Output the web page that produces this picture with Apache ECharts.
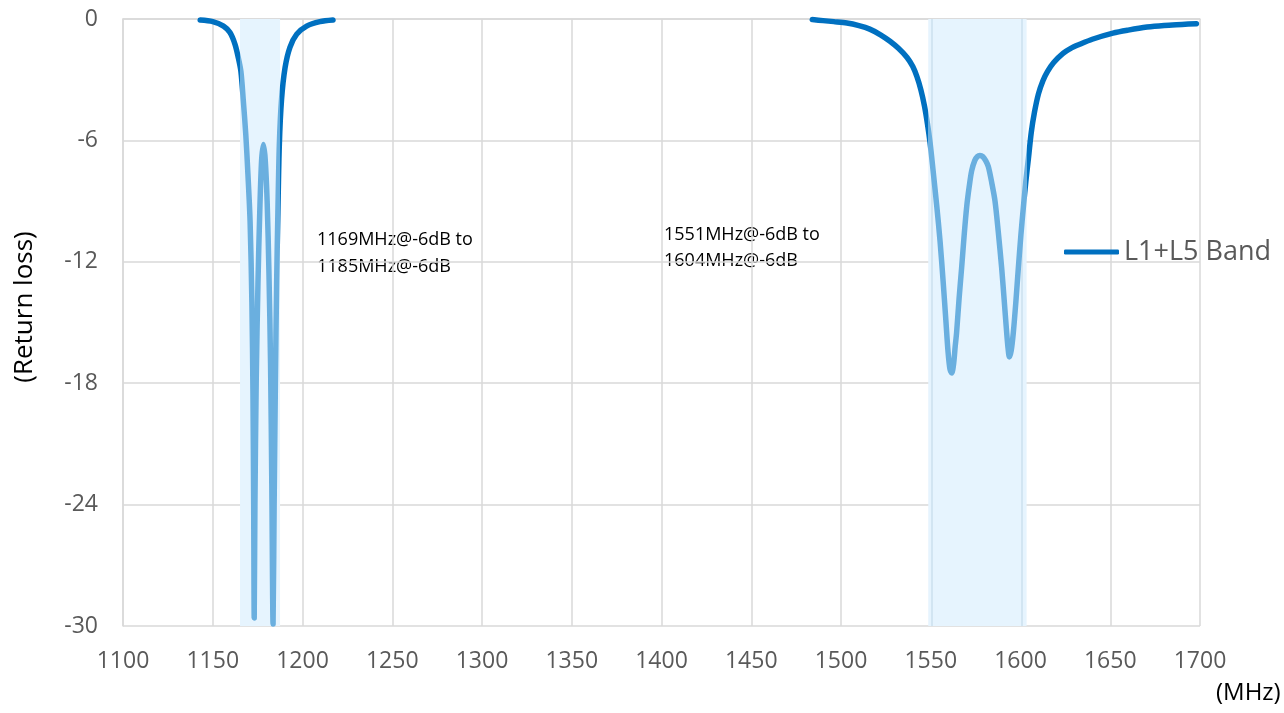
<!DOCTYPE html>
<html>
<head>
<meta charset="utf-8">
<script src="https://cdn.jsdelivr.net/npm/echarts@6/dist/echarts.min.js"></script>
<style>
html,body{margin:0;padding:0;background:#fff;}
#chart{width:1284px;height:713px;}
</style>
</head>
<body>
<div id="chart"></div>
<script>
// Frequency (MHz) and return loss (dB); null marks a gap where the trace sits at/above 0 dB
const freqMHz = [
  1143, 1150, 1156, 1159.6, 1162.4, 1164.2, 1165.7, 1167, 1168.4, 1169.5, 1170.8, 1171.8, 1172.4, 1172.8, 1173.1,
  1173.5, 1174.2, 1175.2, 1176.2, 1177.2, 1178.2, 1179.2, 1180.3, 1181.3, 1182.2, 1182.9, 1183.6,
  1184.2, 1184.9, 1185.6, 1186.3, 1187.1, 1188.3, 1190.3, 1193, 1196.8, 1202.3, 1209.7, 1217,
  1350,
  1484, 1490, 1496, 1503.3, 1510, 1516, 1522, 1527.3, 1532, 1536.8, 1540, 1542.3, 1544.5, 1546.5, 1548.2,
  1549.6, 1551.2, 1553.3, 1555.2, 1557, 1558.5, 1559.6, 1560.7, 1561.7, 1562.8, 1563.6, 1564.4, 1565.8, 1567.2,
  1568.6, 1570, 1571.4, 1572.8, 1574.5, 1576, 1577.4, 1579, 1580.6, 1582.1, 1584, 1585.8, 1587.6, 1589.5,
  1591, 1592.3, 1593.1, 1593.8, 1594.8, 1596, 1597.4, 1598.8, 1600.2, 1601.6, 1603, 1604.4, 1606, 1607.8,
  1610, 1612.5, 1615, 1618.5, 1623.7, 1628, 1633, 1640, 1651.5, 1660, 1670.5, 1680, 1690, 1698
];
const returnLossDb = [
  -0.05, -0.13, -0.35, -0.67, -1.25, -1.9, -2.6, -4.0, -5.7, -7.5, -10, -14, -18.5, -24, -29.6,
  -24, -18, -13, -9.5, -7, -6.2, -6.9, -9, -12.5, -17, -23, -29.9,
  -24, -18, -13, -9.5, -6.2, -4.0, -2.4, -1.4, -0.75, -0.35, -0.13, -0.05,
  null,
  -0.03, -0.08, -0.13, -0.2, -0.33, -0.5, -0.78, -1.1, -1.45, -1.9, -2.35, -2.85, -3.5, -4.3, -5.2,
  -6.1, -7.4, -9.2, -11, -13.1, -15, -16.4, -17.3, -17.5, -17.0, -16.2, -15.5, -13.8, -12.3,
  -10.7, -9.3, -8.3, -7.5, -7.0, -6.8, -6.75, -6.8, -7.0, -7.3, -8.1, -9.0, -10.5, -12.3,
  -14, -15.5, -16.3, -16.7, -16.4, -15.5, -14, -12.3, -10.7, -9.3, -8.0, -6.9, -5.6, -4.6,
  -3.7, -3.05, -2.6, -2.15, -1.7, -1.45, -1.25, -1.0, -0.7, -0.55, -0.4, -0.32, -0.27, -0.23
];
// Highlighted pass bands (MHz) and the outlined edges of the upper band
const bandRanges = [[1165.2, 1187.5], [1548.6, 1603.4]];
const bandEdges = [1550.5, 1600.6];
const xTicks = { min: 1100, max: 1700, step: 50 };
const yTicks = { min: -30, max: 0, step: 6 };
const seriesName = 'L1+L5 Band';
const notes = ['1169MHz@-6dB to\n1185MHz@-6dB', '1551MHz@-6dB to\n1604MHz@-6dB'];

const chart = echarts.init(document.getElementById('chart'), null, { renderer: 'canvas' });
const FONT = '"Open Sans", "Noto Sans", sans-serif';
const gridColor = '#D9D9D9';
const dark = '#0070C0';
const light = '#6AAFDF';

const data = freqMHz.map((f, i) => [f, returnLossDb[i]]);

const option = {
  backgroundColor: '#fff',
  animation: false,
  grid: { left: 123, right: 84, top: 19, bottom: 87 },
  xAxis: {
    type: 'value', min: xTicks.min, max: xTicks.max, interval: xTicks.step,
    axisLine: { show: true, lineStyle: { color: gridColor, width: 1.5 } },
    axisTick: { show: false },
    splitLine: { show: true, lineStyle: { color: gridColor, width: 1.5 } },
    axisLabel: { fontSize: 23, color: '#595959', fontFamily: FONT, margin: 24, formatter: v => String(v) }
  },
  yAxis: {
    type: 'value', min: yTicks.min, max: yTicks.max, interval: yTicks.step,
    axisLine: { show: true, lineStyle: { color: gridColor, width: 1.5 } },
    axisTick: { show: false },
    splitLine: { show: true, lineStyle: { color: gridColor, width: 1.5 } },
    axisLabel: { fontSize: 23, color: '#595959', fontFamily: FONT, margin: 25, formatter: v => String(v) }
  },
  legend: {
    show: true, left: 1059, top: 232, orient: 'vertical',
    icon: 'roundRect', itemWidth: 55, itemHeight: 5,
    textStyle: { fontSize: 27, color: '#595959', fontFamily: FONT, lineHeight: 30 },
    data: [{ name: seriesName, itemStyle: { color: dark } }]
  },
  visualMap: {
    show: false, type: 'piecewise', dimension: 0, seriesIndex: 0,
    pieces: bandRanges.map(r => ({ gte: r[0], lte: r[1], color: light })),
    outOfRange: { color: dark }
  },
  series: [{
    name: seriesName, type: 'line', data: data, showSymbol: false, symbol: 'none',
    smooth: 0.3, connectNulls: false, z: 3,
    lineStyle: { width: 5.5, cap: 'round', join: 'round' },
    itemStyle: { color: dark },
    markArea: {
      silent: true, z: 1,
      itemStyle: { color: '#E6F4FE' },
      data: bandRanges.map(r => [{ xAxis: r[0] }, { xAxis: r[1] }])
    },
    markLine: {
      silent: true, z: 2, symbol: 'none', label: { show: false },
      lineStyle: { color: '#D2E5F2', width: 2, type: 'solid' },
      emphasis: { disabled: true },
      data: bandEdges.map(x => ({ xAxis: x }))
    }
  }],
  graphic: [
    { type: 'text', left: 317, top: 226, style: { text: notes[0], font: '18px ' + FONT, fill: '#000', lineHeight: 27 } },
    { type: 'text', left: 664, top: 222, style: { text: notes[1], font: '18px ' + FONT, fill: '#000', lineHeight: 26 } },
    { type: 'text', x: 1216, y: 693, style: { text: '(MHz)', font: '24px ' + FONT, fill: '#000', verticalAlign: 'middle' } },
    { type: 'text', x: 25, y: 307, rotation: Math.PI / 2, style: { text: '(Return loss)', font: '26px ' + FONT, fill: '#000', align: 'center', verticalAlign: 'middle' } }
  ]
};
chart.setOption(option);
</script>
</body>
</html>
